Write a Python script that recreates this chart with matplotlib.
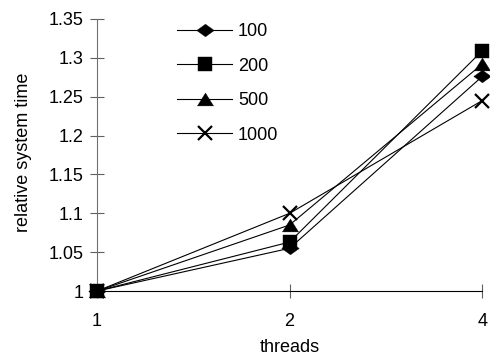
import matplotlib.pyplot as plt

plt.rcParams['font.family'] = ['Liberation Sans', 'DejaVu Sans']

threads = ['1', '2', '4']
s100 = [1.0, 1.055, 1.276]
s200 = [1.0, 1.063, 1.309]
s500 = [1.0, 1.085, 1.292]
s1000 = [1.0, 1.100, 1.245]

# markers are a bit wider than tall in the original
diamond = [(-1, 0), (0, 0.72), (1, 0), (0, -0.72), (-1, 0)]
triangle = [(-1, -0.8), (0, 0.8), (1, -0.8), (-1, -0.8)]

series = [('100', s100, diamond, 12.5, 3),
          ('200', s200, 's', 9.5, 4),
          ('500', s500, triangle, 11.5, 2),
          ('1000', s1000, 'x', 10.5, 1)]

fig = plt.figure(figsize=(4.9, 3.58), dpi=100)
ax = fig.add_axes([0.198, 0.187, 0.786, 0.760])

x = range(len(threads))
for name, vals, m, ms, z in series:
    if m == 'x':
        ax.plot(x, vals, color='black', lw=0.8, marker='x', markersize=ms,
                markeredgewidth=1.6, clip_on=False, label=name, zorder=z + 2)
    else:
        ax.plot(x, vals, color='black', lw=0.8, marker=m, markersize=ms,
                markeredgewidth=0.3, clip_on=False, label=name, zorder=z + 2)

ax.set_xlim(0, 2)
ax.set_ylim(1, 1.35)
ax.set_xticks(list(x))
ax.set_xticklabels(threads)
ax.set_yticks([1, 1.05, 1.1, 1.15, 1.2, 1.25, 1.3, 1.35])
ax.set_yticklabels(['1', '1.05', '1.1', '1.15', '1.2', '1.25', '1.3', '1.35'])
ax.tick_params(direction='inout', length=10, width=0.8, colors='#606060',
               labelcolor='black', labelsize=13, pad=5)
ax.tick_params(axis='x', pad=11)
for s in ['top', 'right']:
    ax.spines[s].set_visible(False)
ax.spines['left'].set_color('#707070')
ax.spines['bottom'].set_color('black')
ax.set_xlabel('threads', fontsize=13)
ax.xaxis.set_label_coords(0.5, -0.175)
ax.set_ylabel('relative system time', fontsize=13)
ax.yaxis.set_label_coords(-0.168, 0.51)

ax.legend(loc='upper left', bbox_to_anchor=(177 / 490, 1 - 23 / 358),
          bbox_transform=fig.transFigure, frameon=False, borderpad=0,
          borderaxespad=0, fontsize=13, handlelength=3.05,
          handletextpad=0.33, labelspacing=0.97)

fig.savefig('out.png', dpi=100)
